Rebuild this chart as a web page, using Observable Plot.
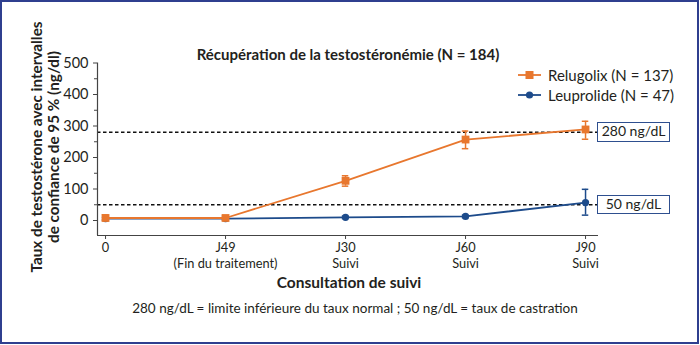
<!DOCTYPE html>
<html><head><meta charset="utf-8">
<script src="https://cdn.jsdelivr.net/npm/d3@7"></script>
<script src="https://cdn.jsdelivr.net/npm/@observablehq/plot@0.6"></script>
<style>
body{margin:0;background:#fff;}
#wrap{position:relative;width:700px;height:345px;font-family:Lato, "Open Sans", sans-serif;color:#231f20;overflow:hidden;background:#fff;}
#wrap > svg{position:absolute;left:0;top:0;}
.abs{position:absolute;white-space:nowrap;}
#frame{position:absolute;left:0;top:0;width:699px;height:344px;border:2px solid #2f3f8f;box-sizing:border-box;pointer-events:none;}
#title{font-weight:bold;font-size:15px;left:348px;top:54px;transform:translate(-50%,-50%);}
#xtitle{font-weight:bold;font-size:15.5px;left:349px;top:281.5px;transform:translate(-50%,-50%);line-height:17px;}
#foot{font-size:13.5px;left:355px;top:308px;transform:translate(-50%,-50%);}
#ytitle{font-weight:bold;font-size:15.3px;line-height:17px;text-align:center;left:45px;top:147px;transform:translate(-50%,-50%) rotate(-90deg);}
.box{position:absolute;border:1.5px solid #2e4f8f;box-sizing:border-box;font-size:14px;text-align:center;line-height:16.5px;background:#fff;}
.leg{position:absolute;font-size:15px;display:flex;align-items:center;white-space:nowrap;}
.leg svg{margin-right:7px;}
</style></head><body><div id="wrap"></div>
<script>
const categories = ["0", "J49", "J30", "J60", "J90"];
const tickLabels = ["0", "J49\n(Fin du traitement)", "J30\nSuivi", "J60\nSuivi", "J90\nSuivi"];
const seriesNames = ["Relugolix (N = 137)", "Leuprolide (N = 47)"];
const relugolixMean = [8, 8, 126, 257, 289];
const relugolixLow = [0, 2, 109, 228, 258];
const relugolixHigh = [18, 15, 142, 284, 315];
const leuprolideMean = [6, 6, 10, 13, 57];
const leuprolideLow = [2, 2, 6, 9, 17];
const leuprolideHigh = [10, 10, 14, 17, 99];
const refLines = [280, 50];
const refLabels = ["280 ng/dL", "50 ng/dL"];
const yTicks = [0, 100, 200, 300, 400, 500];
const yMinorTicks = [50, 150, 250, 350, 450];

const orange = "#e8772e", blue = "#1d4b8b";
const xDomain = [-0.067, 4.108];
const yDomain = [-47.6, 500];

function rows(mean, lo, hi) {
  return categories.map((c, i) => ({i, cat: c, v: mean[i], lo: lo[i], hi: hi[i]}));
}
const relu = rows(relugolixMean, relugolixLow, relugolixHigh);
const leup = rows(leuprolideMean, leuprolideLow, leuprolideHigh);
const cap = 0.027;

function errMarks(data, color) {
  return [
    Plot.ruleX(data, {x: "i", y1: "lo", y2: "hi", stroke: color, strokeWidth: 1.5}),
    Plot.ruleY(data, {y: "lo", x1: d => d.i - cap, x2: d => d.i + cap, stroke: color, strokeWidth: 1.5}),
    Plot.ruleY(data, {y: "hi", x1: d => d.i - cap, x2: d => d.i + cap, stroke: color, strokeWidth: 1.5})
  ];
}

const chart = Plot.plot({
  width: 700, height: 345,
  marginLeft: 97, marginRight: 102, marginTop: 62.5, marginBottom: 110,
  style: {fontFamily: "Lato, 'Open Sans', sans-serif", fontSize: "13px", color: "#231f20", background: "transparent"},
  x: {type: "linear", domain: xDomain},
  y: {domain: yDomain},
  marks: [
    Plot.ruleY(refLines, {x1: xDomain[0], x2: xDomain[1], stroke: "#111", strokeWidth: 1.6, strokeDasharray: "3.5,2.5"}),
    Plot.ruleX([xDomain[0]], {y1: yDomain[0], y2: 500, stroke: "#444", strokeWidth: 1.2}),
    Plot.ruleY([yDomain[0]], {x1: xDomain[0], x2: xDomain[1], stroke: "#444", strokeWidth: 1.2}),
    Plot.axisY({ticks: yTicks, tickSize: 4, tickPadding: 5, label: null, stroke: "#444", fontSize: 14.5}),
    Plot.axisY({ticks: yMinorTicks, tickSize: 3, tickFormat: () => "", label: null, stroke: "#444"}),
    Plot.axisX({ticks: [0, 1, 2, 3, 4], tickFormat: i => tickLabels[i], tickSize: 4, tickPadding: 2, label: null, stroke: "#444", fontSize: 12.8, lineHeight: 1.2}),
    ...errMarks(leup, blue),
    Plot.line(leup, {x: "i", y: "v", stroke: blue, strokeWidth: 1.8}),
    Plot.dot(leup, {x: "i", y: "v", fill: blue, r: 3.6, symbol: "circle"}),
    ...errMarks(relu, orange),
    Plot.line(relu, {x: "i", y: "v", stroke: orange, strokeWidth: 1.8}),
    Plot.dot(relu, {x: "i", y: "v", fill: orange, r: 4.4, symbol: "square"})
  ]
});

const wrap = document.getElementById("wrap");
wrap.appendChild(chart);
const ys = chart.scale("y");
const xs = chart.scale("x");

function add(html, id, cls) {
  const d = document.createElement("div");
  d.className = cls || "abs";
  if (id) d.id = id;
  d.innerHTML = html;
  wrap.appendChild(d);
  return d;
}
add("Récupération de la testostéronémie (N = 184)", "title");
add("Consultation de suivi", "xtitle");
add("280 ng/dL = limite inférieure du taux normal ; 50 ng/dL = taux de castration", "foot");
add("Taux de testostérone avec intervalles<br>de confiance de 95 % (ng/dl)", "ytitle");

const xRight = xs.apply(xDomain[1]);
refLines.forEach((v, k) => {
  const b = add(refLabels[k], null, "box");
  b.style.left = (xRight - 1) + "px";
  b.style.width = "73px";
  b.style.height = "19.5px";
  b.style.top = (ys.apply(v) - 9.75) + "px";
});

const legendColors = [orange, blue];
const legendSymbols = ["square", "circle"];
seriesNames.forEach((name, k) => {
  const l = add("", null, "leg");
  l.style.left = "518px";
  l.style.top = (74.5 + k * 20.5 - 9) + "px";
  l.style.height = "18px";
  const sym = legendSymbols[k] === "square"
    ? `<rect x="7.5" y="5" width="8" height="8" fill="${legendColors[k]}"/>`
    : `<circle cx="11.5" cy="9" r="3.6" fill="${legendColors[k]}"/>`;
  l.innerHTML = `<svg width="23" height="18"><line x1="0" x2="23" y1="9" y2="9" stroke="${legendColors[k]}" stroke-width="1.8"/>${sym}</svg><span>${name}</span>`;
});
add("", "frame");
</script></body></html>
